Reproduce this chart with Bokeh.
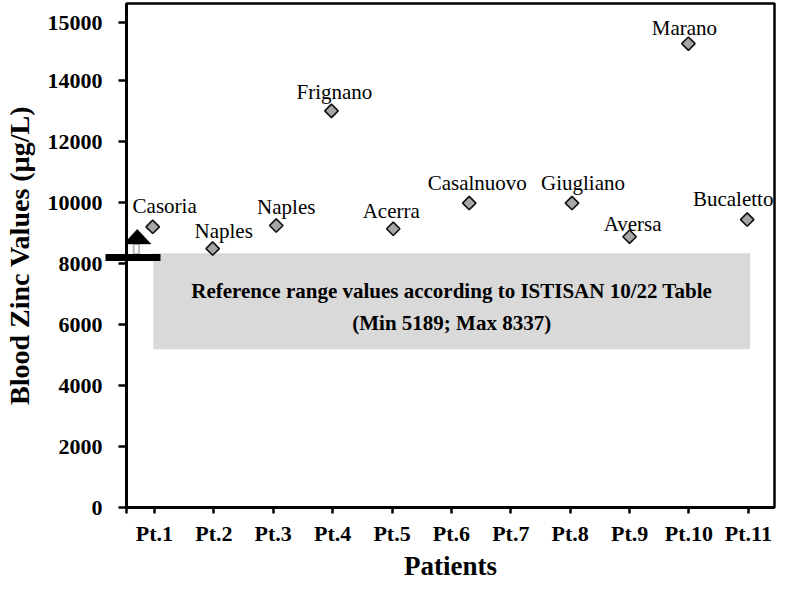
from bokeh.plotting import figure
from bokeh.models import (ColumnDataSource, FixedTicker, CustomJSTickFormatter,
                          PolyAnnotation, Range1d)
from bokeh.core.properties import value
from bokeh.embed import file_html
from bokeh.resources import INLINE

# ---------------- data ----------------
patients = ["Pt.1", "Pt.2", "Pt.3", "Pt.4", "Pt.5", "Pt.6",
            "Pt.7", "Pt.8", "Pt.9", "Pt.10", "Pt.11"]
patient_pos = [1, 2, 3, 4, 5, 6, 7, 8, 9, 10, 11]

point_x = [0.97, 1.98, 3.05, 3.98, 5.02, 6.30, 8.03, 9.00, 9.99, 10.98]
zinc = [9203, 8490, 9245, 13004, 9138, 9981, 9981, 8879, 15208, 9440]
towns = ["Casoria", "Naples", "Naples", "Frignano", "Acerra",
         "Casalnuovo", "Giugliano", "Aversa", "Marano", "Bucaletto"]

ref_min = 5189
ref_max = 8337
ref_text_1 = "Reference range values according to ISTISAN 10/22 Table"
ref_text_2 = "(Min 5189; Max 8337)"

y_tick_values = [0, 2000, 4000, 6000, 8000, 10000, 12000, 14000, 15900]
y_tick_labels = ["0", "2000", "4000", "6000", "8000", "10000",
                 "12000", "14000", "15000"]

# label placement (pixels, style only)
label_dx = [12, 11, 10, 3, -2, 8, 11, 3, -4, -14]
label_dy = [-21, -18, -19, -19, -18, -20, -20, -13, -16, -21]

FONT = "Liberation Serif"

x_start, x_end = 0.529, 11.44
p = figure(width=779, height=583, output_backend="svg", toolbar_location=None,
           x_range=Range1d(x_start, x_end), y_range=Range1d(0, 16525),
           min_border_left=126, min_border_right=5, min_border_top=3,
           min_border_bottom=60)

p.grid.visible = False
p.background_fill_color = "white"
p.border_fill_color = "white"
p.outline_line_color = "black"
p.outline_line_width = 2.5
p.outline_line_alpha = 1.0

# reference range box
box_left, box_right = 0.98, 11.03
p.quad(left=[box_left], right=[box_right], bottom=[ref_min], top=[ref_max],
       fill_color="#d9d9d9", line_color=None)

box_cx = (box_left + box_right) / 2
box_cy = (ref_min + ref_max) / 2
p.text(x=[box_cx, box_cx], y=[box_cy, box_cy], text=[ref_text_1, ref_text_2],
       x_offset=[0, 0], y_offset=[-10, 22],
       text_font=value(FONT), text_font_style="bold", text_font_size="21px",
       text_align="center", text_baseline="middle", text_color="black")

# points
src = ColumnDataSource(dict(x=point_x, y=zinc, town=towns,
                            dx=label_dx, dy=label_dy))
p.scatter(x="x", y="y", source=src, marker="square", angle=0.785398,
          size=9.5, fill_color="#a6a6a6", line_color="#111111", line_width=1.6)
p.text(x="x", y="y", text="town", source=src, x_offset="dx", y_offset="dy",
       text_font=value(FONT), text_font_size="21px", text_align="center",
       text_baseline="alphabetic", text_color="black")

# arrow marker on the left (decoration at the upper reference limit)
bar_y = ref_max - 135
stem_bottom, head_base, head_tip = ref_max - 25, ref_max + 299, ref_max + 786
p.add_layout(PolyAnnotation(xs=[0.65, 0.742, 0.742, 0.65],
                            ys=[stem_bottom, stem_bottom, head_base, head_base],
                            fill_color="white", fill_alpha=1.0, line_color="black",
                            line_width=1.8, level="overlay"))
p.add_layout(PolyAnnotation(xs=[0.478, 0.71, 0.944],
                            ys=[head_base, head_tip, head_base],
                            fill_color="black", fill_alpha=1.0, line_color="black",
                            line_width=1, level="overlay"))

# axes
p.xaxis.ticker = FixedTicker(ticks=[x_start] + patient_pos)
p.xaxis.formatter = CustomJSTickFormatter(args=dict(labels=patients), code="""
    const r = Math.round(tick);
    if (Math.abs(tick - r) > 1e-6 || r < 1 || r > labels.length) return "";
    return labels[r - 1];
""")
# the thick horizontal bar of the arrow is drawn as a single minor tick
p.yaxis.ticker = FixedTicker(ticks=y_tick_values, minor_ticks=[bar_y])
p.yaxis.major_label_overrides = {v: l for v, l in zip(y_tick_values, y_tick_labels)}

for ax in (p.xaxis[0], p.yaxis[0]):
    ax.axis_line_width = 3
    ax.axis_line_color = "black"
    ax.major_tick_line_width = 2.5
    ax.major_tick_line_color = "black"
    ax.major_tick_in = 0
    ax.major_label_text_font = FONT
    ax.major_label_text_font_style = "bold"
    ax.major_label_text_font_size = "22px"
    ax.major_label_text_color = "black"
    ax.axis_label_text_font = FONT
    ax.axis_label_text_font_style = "bold"
    ax.axis_label_text_color = "black"

p.xaxis.axis_label_text_font_size = "27px"
p.yaxis.axis_label_text_font_size = "28px"

p.xaxis.minor_tick_line_color = None
p.yaxis.minor_tick_line_color = "black"
p.yaxis.minor_tick_line_width = 7
p.yaxis.minor_tick_out = 21
p.yaxis.minor_tick_in = 34

p.xaxis.major_tick_out = 6
p.yaxis.major_tick_out = 8
p.xaxis.major_label_standoff = 7
p.yaxis.major_label_standoff = 3
p.xaxis.axis_label = "Patients"
p.yaxis.axis_label = "Blood Zinc Values (µg/L)"
p.xaxis.axis_label_standoff = 2
p.yaxis.axis_label_standoff = 10

open("out.html", "w").write(file_html(p, INLINE))
